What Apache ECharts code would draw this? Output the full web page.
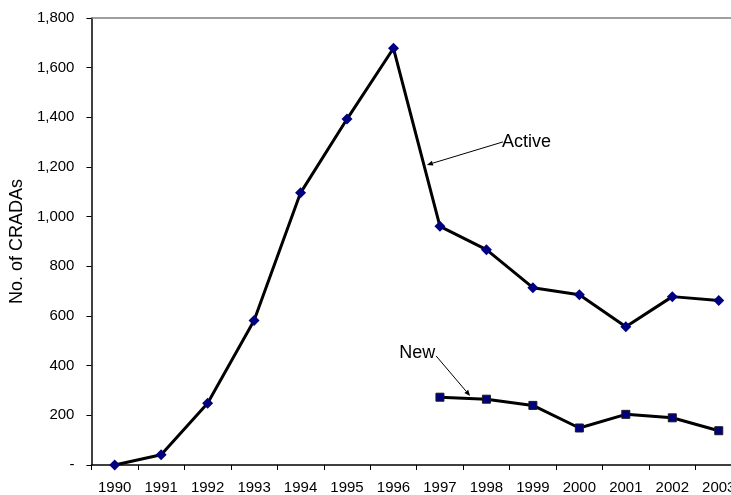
<!DOCTYPE html>
<html>
<head>
<meta charset="utf-8">
<script src="https://cdn.jsdelivr.net/npm/echarts@6/dist/echarts.min.js"></script>
<style>
  html, body { margin: 0; padding: 0; background: #fff; overflow: hidden; }
  /* the plot area runs a little past the right edge of the window */
  #chart { width: 742px; height: 495px; }
</style>
</head>
<body>
<div id="chart"></div>
<script>
// Fiscal years on the category axis
const years = ['1990', '1991', '1992', '1993', '1994', '1995', '1996',
               '1997', '1998', '1999', '2000', '2001', '2002', '2003'];

// Active CRADAs per year
const activeCradas = [0, 41, 249, 582, 1096, 1393, 1678, 961, 867, 714, 686, 557, 678, 662];

// New CRADAs per year (reported from 1997 on)
const newCradas = [null, null, null, null, null, null, null, 273, 265, 240, 149, 204, 190, 138];

// Value axis range
const yMin = 0;
const yMax = 1800;
const yStep = 200;

const FONT = '"Liberation Sans", Arial, sans-serif';

const chart = echarts.init(document.getElementById('chart'), null, { renderer: 'canvas' });

function fmtCount(v) {
  if (v === 0) return '-';
  return v.toLocaleString('en-US');
}

chart.setOption({
  animation: false,
  backgroundColor: '#ffffff',
  grid: { left: 89.4, right: 0, top: 18, bottom: 29, containLabel: false },
  xAxis: [{
    type: 'category',
    data: years,
    boundaryGap: true,
    axisLine: { lineStyle: { color: '#000', width: 1.5 } },
    axisTick: { show: true, inside: false, length: 5, interval: 0, lineStyle: { color: '#000' } },
    axisLabel: { interval: 0, margin: 15, color: '#000', fontSize: 15, fontFamily: FONT, hideOverlap: false },
    splitLine: { show: false }
  }, {
    // plot-area top border
    type: 'category',
    data: years,
    position: 'top',
    axisLine: { lineStyle: { color: '#808080', width: 1.5 } },
    axisTick: { show: false },
    axisLabel: { show: false },
    splitLine: { show: false }
  }],
  yAxis: {
    type: 'value',
    min: yMin,
    max: yMax,
    interval: yStep,
    name: 'No. of CRADAs',
    nameLocation: 'middle',
    nameRotate: 90,
    nameGap: 49,
    nameTextStyle: { color: '#000', fontSize: 18, fontFamily: FONT },
    axisLine: { show: true, lineStyle: { color: '#000', width: 1.5 } },
    axisTick: { show: true, inside: false, length: 5, lineStyle: { color: '#000' } },
    axisLabel: { margin: 17, color: '#000', fontSize: 15, fontFamily: FONT, formatter: fmtCount },
    splitLine: { show: false }
  },
  series: [{
    name: 'Active',
    type: 'line',
    data: activeCradas,
    symbol: 'diamond',
    symbolSize: 11,
    showAllSymbol: true,
    lineStyle: { color: '#000', width: 3 },
    itemStyle: { color: '#000080' },
    z: 3
  }, {
    name: 'New',
    type: 'line',
    data: newCradas,
    connectNulls: false,
    symbol: 'rect',
    symbolSize: 8,
    showAllSymbol: true,
    lineStyle: { color: '#000', width: 3 },
    itemStyle: { color: '#000080', borderColor: '#1a1a1a', borderWidth: 1 },
    z: 3
  }]
});

// Callout labels with thin arrows pointing at each series line
function px(i, v) {
  return chart.convertToPixel({ xAxisIndex: 0, yAxisIndex: 0 }, [i, v]);
}
function lerp(a, b, t) {
  return [a[0] + (b[0] - a[0]) * t, a[1] + (b[1] - a[1]) * t];
}
function arrow(tail, tip) {
  const dx = tip[0] - tail[0], dy = tip[1] - tail[1];
  const len = Math.hypot(dx, dy), ux = dx / len, uy = dy / len;
  const hl = 6, hw = 2.5;
  const base = [tip[0] - ux * hl, tip[1] - uy * hl];
  return [{
    type: 'line',
    shape: { x1: tail[0], y1: tail[1], x2: base[0], y2: base[1] },
    style: { stroke: '#000', lineWidth: 1 },
    z: 10
  }, {
    type: 'polygon',
    shape: { points: [tip, [base[0] - uy * hw, base[1] + ux * hw], [base[0] + uy * hw, base[1] - ux * hw]] },
    style: { fill: '#000' },
    z: 10
  }];
}

const aTip = lerp(px(6, activeCradas[6]), px(7, activeCradas[7]), 0.655);
aTip[0] += 3;
const aTail = [aTip[0] + 76, aTip[1] - 23];

const nTip = lerp(px(7, newCradas[7]), px(8, newCradas[8]), 0.65);
nTip[1] -= 2.5;
const nTail = [nTip[0] - 34, nTip[1] - 40];

chart.setOption({
  graphic: [
    ...arrow(aTail, aTip),
    ...arrow(nTail, nTip),
    {
      type: 'text', z: 11,
      style: { text: 'Active', x: aTail[0] - 1, y: aTail[1], fill: '#000',
               font: '18px ' + FONT, textAlign: 'left', textVerticalAlign: 'middle' }
    },
    {
      type: 'text', z: 11,
      style: { text: 'New', x: nTail[0] - 1, y: nTail[1] - 3, fill: '#000',
               font: '18px ' + FONT, textAlign: 'right', textVerticalAlign: 'middle' }
    }
  ]
});
</script>
</body>
</html>
